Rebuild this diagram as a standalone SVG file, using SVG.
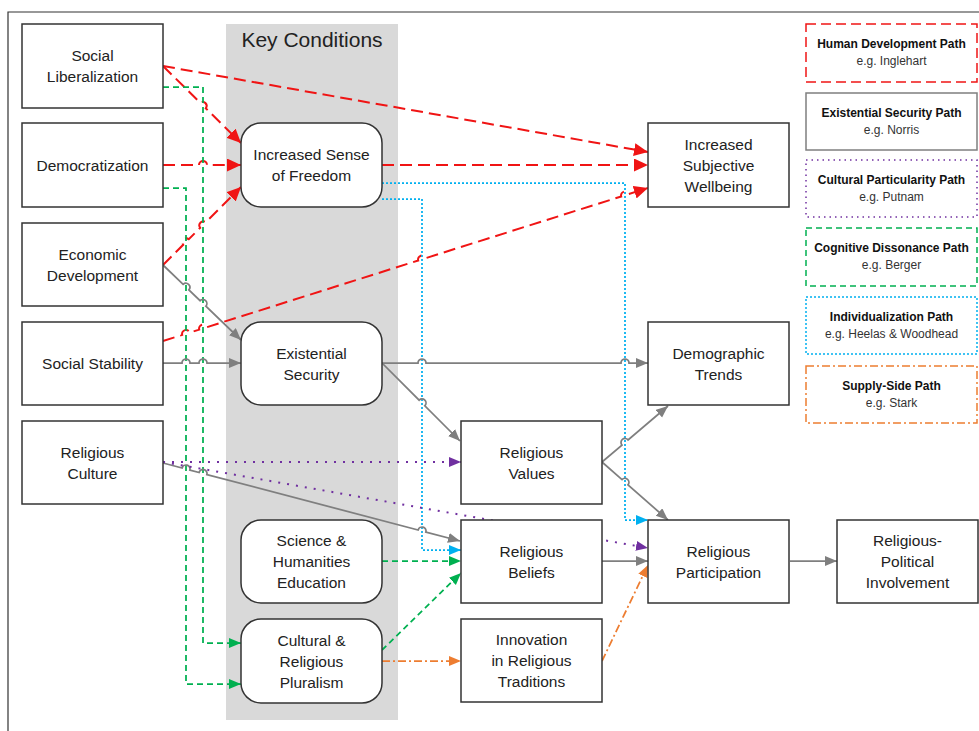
<svg xmlns="http://www.w3.org/2000/svg" width="979" height="731" viewBox="0 0 979 731">
<style>
.bx{fill:#fff;stroke:#333;stroke-width:1.5}
.t{font-family:"Liberation Sans",Arial,sans-serif;font-size:15.5px;fill:#222;text-anchor:middle}
.lt{font-family:"Liberation Sans",Arial,sans-serif;font-size:12px;fill:#333;text-anchor:middle}
.lb{font-weight:bold;fill:#111}
.c{fill:none}
.red{stroke:#f01414;stroke-width:2;stroke-dasharray:12 6}
.gry{stroke:#7f7f7f;stroke-width:1.75}
.grn{stroke:#00b050;stroke-width:1.75;stroke-dasharray:6 4}
.blu{stroke:#00b0f0;stroke-width:1.75;stroke-dasharray:2 2}
.pur{stroke:#7030a0;stroke-width:2;stroke-dasharray:2 7}
.org{stroke:#ed7d31;stroke-width:1.75;stroke-dasharray:8 3 2 3}
</style>
<defs>
<marker id="aR" markerUnits="userSpaceOnUse" markerWidth="15" markerHeight="13" refX="14" refY="6.5" orient="auto"><path d="M0,0 L14,6.5 L0,13 z" fill="#f01414"/></marker>
<marker id="aG" markerUnits="userSpaceOnUse" markerWidth="13" markerHeight="11" refX="12" refY="5" orient="auto"><path d="M0,0 L12,5 L0,10 z" fill="#7f7f7f"/></marker>
<marker id="aN" markerUnits="userSpaceOnUse" markerWidth="13" markerHeight="11" refX="12" refY="5" orient="auto"><path d="M0,0 L12,5 L0,10 z" fill="#00b050"/></marker>
<marker id="aB" markerUnits="userSpaceOnUse" markerWidth="13" markerHeight="11" refX="12" refY="5" orient="auto"><path d="M0,0 L12,5 L0,10 z" fill="#00b0f0"/></marker>
<marker id="aP" markerUnits="userSpaceOnUse" markerWidth="13" markerHeight="11" refX="12" refY="5" orient="auto"><path d="M0,0 L12,5 L0,10 z" fill="#7030a0"/></marker>
<marker id="aO" markerUnits="userSpaceOnUse" markerWidth="13" markerHeight="11" refX="12" refY="5" orient="auto"><path d="M0,0 L12,5 L0,10 z" fill="#ed7d31"/></marker>
</defs>
<rect width="979" height="731" fill="#fff"/>
<path d="M8,731 V12 H979" fill="none" stroke="#333" stroke-width="1.2"/>
<g id="key-conditions">
<rect x="226" y="24" width="172" height="696" fill="#d9d9d9"/>
<text x="312" y="47" font-family="Liberation Sans,Arial,sans-serif" font-size="21" fill="#222" text-anchor="middle">Key Conditions</text>
</g>
<g id="connectors" class="c">
<path class="c red" marker-end="url(#aR)" d="M163,66 L648,152"/>
<path class="c red" marker-end="url(#aR)" d="M163,66 L200.2,102.7 A4,4 0 0 1 205.8,108.3 L241,143"/>
<path class="c red" marker-end="url(#aR)" d="M163,165 L199,165 A4,4 0 0 1 207,165 L241,165"/>
<path class="c red" marker-end="url(#aR)" d="M163,265 L183.2,244.8 A4,4 0 0 1 188.8,239.2 L200.2,227.8 A4,4 0 0 1 205.8,222.2 L241,187"/>
<path class="c red" marker-end="url(#aR)" d="M163,341 L182.19,334.94 A4,4 0 0 1 189.81,332.54 L199.19,329.58 A4,4 0 0 1 206.81,327.18 L418.19,260.5 A4,4 0 0 1 425.81,258.1 L621.19,196.46 A4,4 0 0 1 628.81,194.06 L648,188"/>
<path class="c red" marker-end="url(#aR)" d="M382,165 L648,165"/>
<path class="c blu" marker-end="url(#aB)" d="M382,183 H625 V520 H648"/>
<path class="c blu" marker-end="url(#aB)" d="M382,199 H422 V550 H461"/>
<path class="c grn" marker-end="url(#aN)" d="M163,87 H203 V643 H241"/>
<path class="c grn" marker-end="url(#aN)" d="M163,188 H186 V684 H241"/>
<path class="c grn" marker-end="url(#aN)" d="M382,561 H461"/>
<path class="c grn" marker-end="url(#aN)" d="M382,650 L461,573"/>
<path class="c gry" marker-end="url(#aG)" d="M163,265 L183.12,284.35 A4,4 0 0 1 188.88,289.87 L200.12,300.69 A4,4 0 0 1 205.88,306.23 L241,340"/>
<path class="c gry" marker-end="url(#aG)" d="M163,363 L182,363 A4,4 0 0 1 190,363 L199,363 A4,4 0 0 1 207,363 L241,363"/>
<path class="c gry" marker-end="url(#aG)" d="M382,363 L418,363 A4,4 0 0 1 426,363 L621,363 A4,4 0 0 1 629,363 L648,363"/>
<path class="c gry" marker-end="url(#aG)" d="M382,363 L419.17,400.17 A4,4 0 0 1 424.83,405.83 L460,441"/>
<path class="c gry" marker-end="url(#aG)" d="M163,463 L182.13,468.02 A4,4 0 0 1 189.87,470.06 L199.13,472.48 A4,4 0 0 1 206.87,474.52 L418.13,530 A4,4 0 0 1 425.87,532.04 L460,541"/>
<path class="c gry" marker-end="url(#aG)" d="M602,462 L621.95,445.08 A4,4 0 0 1 628.05,439.9 L668,406"/>
<path class="c gry" marker-end="url(#aG)" d="M602,462 L622,479.57 A4,4 0 0 1 628,484.85 L668,520"/>
<path class="c gry" marker-end="url(#aG)" d="M602,561 H648"/>
<path class="c gry" marker-end="url(#aG)" d="M790,561 H837"/>
<path class="c pur" marker-end="url(#aP)" d="M163,462 H461"/>
<path class="c pur" marker-end="url(#aP)" d="M163,462 L648,548"/>
<path class="c org" marker-end="url(#aO)" d="M382,661 H461"/>
<path class="c org" marker-end="url(#aO)" d="M602,661 L648,565"/>
</g>
<g id="social-liberalization"><rect class="bx" x="22" y="24" width="141" height="84"/><text class="t" x="92.5" y="61">Social</text><text class="t" x="92.5" y="82">Liberalization</text></g>
<g id="democratization"><rect class="bx" x="22" y="123" width="141" height="84"/><text class="t" x="92.5" y="170.5">Democratization</text></g>
<g id="economic-development"><rect class="bx" x="22" y="223" width="141" height="83"/><text class="t" x="92.5" y="259.5">Economic</text><text class="t" x="92.5" y="280.5">Development</text></g>
<g id="social-stability"><rect class="bx" x="22" y="322" width="141" height="83"/><text class="t" x="92.5" y="369">Social Stability</text></g>
<g id="religious-culture"><rect class="bx" x="22" y="421" width="141" height="83"/><text class="t" x="92.5" y="457.5">Religious</text><text class="t" x="92.5" y="478.5">Culture</text></g>
<g id="increased-sense-of-freedom"><rect class="bx" x="241" y="123" width="141" height="84" rx="20"/><text class="t" x="311.5" y="160">Increased Sense</text><text class="t" x="311.5" y="181">of Freedom</text></g>
<g id="existential-security"><rect class="bx" x="241" y="322" width="141" height="83" rx="20"/><text class="t" x="311.5" y="358.5">Existential</text><text class="t" x="311.5" y="379.5">Security</text></g>
<g id="science-humanities-education"><rect class="bx" x="241" y="520" width="141" height="83" rx="20"/><text class="t" x="311.5" y="546">Science &amp;</text><text class="t" x="311.5" y="567">Humanities</text><text class="t" x="311.5" y="588">Education</text></g>
<g id="cultural-religious-pluralism"><rect class="bx" x="241" y="619" width="141" height="84" rx="20"/><text class="t" x="311.5" y="645.5">Cultural &amp;</text><text class="t" x="311.5" y="666.5">Religious</text><text class="t" x="311.5" y="687.5">Pluralism</text></g>
<g id="religious-values"><rect class="bx" x="461" y="421" width="141" height="83"/><text class="t" x="531.5" y="457.5">Religious</text><text class="t" x="531.5" y="478.5">Values</text></g>
<g id="religious-beliefs"><rect class="bx" x="461" y="520" width="141" height="83"/><text class="t" x="531.5" y="556.5">Religious</text><text class="t" x="531.5" y="577.5">Beliefs</text></g>
<g id="innovation-in-religious-traditions"><rect class="bx" x="461" y="619" width="141" height="83"/><text class="t" x="531.5" y="645">Innovation</text><text class="t" x="531.5" y="666">in Religious</text><text class="t" x="531.5" y="687">Traditions</text></g>
<g id="increased-subjective-wellbeing"><rect class="bx" x="648" y="123" width="141" height="84"/><text class="t" x="718.5" y="149.5">Increased</text><text class="t" x="718.5" y="170.5">Subjective</text><text class="t" x="718.5" y="191.5">Wellbeing</text></g>
<g id="demographic-trends"><rect class="bx" x="648" y="322" width="141" height="83"/><text class="t" x="718.5" y="358.5">Demographic</text><text class="t" x="718.5" y="379.5">Trends</text></g>
<g id="religious-participation"><rect class="bx" x="648" y="520" width="141" height="83"/><text class="t" x="718.5" y="556.5">Religious</text><text class="t" x="718.5" y="577.5">Participation</text></g>
<g id="religious-political-involvement"><rect class="bx" x="837" y="520" width="141" height="83"/><text class="t" x="907.5" y="546">Religious-</text><text class="t" x="907.5" y="567">Political</text><text class="t" x="907.5" y="588">Involvement</text></g>
<g id="legend-human-development"><rect x="806" y="24" width="171" height="58" fill="#fff" stroke="#f01414" stroke-width="1.5" stroke-dasharray="10 5"/><text class="lt lb" x="891.5" y="48">Human Development Path</text><text class="lt" x="891.5" y="65">e.g. Inglehart</text></g>
<g id="legend-existential-security"><rect x="806" y="93" width="171" height="57" fill="#fff" stroke="#7f7f7f" stroke-width="1.5"/><text class="lt lb" x="891.5" y="117">Existential Security Path</text><text class="lt" x="891.5" y="134">e.g. Norris</text></g>
<g id="legend-cultural-particularity"><rect x="806" y="160" width="171" height="57" fill="#fff" stroke="#7030a0" stroke-width="1.5" stroke-dasharray="1.5 4"/><text class="lt lb" x="891.5" y="184">Cultural Particularity Path</text><text class="lt" x="891.5" y="201">e.g. Putnam</text></g>
<g id="legend-cognitive-dissonance"><rect x="806" y="228" width="171" height="58" fill="#fff" stroke="#00b050" stroke-width="1.5" stroke-dasharray="6 4"/><text class="lt lb" x="891.5" y="252">Cognitive Dissonance Path</text><text class="lt" x="891.5" y="269">e.g. Berger</text></g>
<g id="legend-individualization"><rect x="806" y="297" width="171" height="57" fill="#fff" stroke="#00b0f0" stroke-width="1.5" stroke-dasharray="2 2"/><text class="lt lb" x="891.5" y="321">Individualization Path</text><text class="lt" x="891.5" y="338">e.g. Heelas &amp; Woodhead</text></g>
<g id="legend-supply-side"><rect x="806" y="366" width="171" height="57" fill="#fff" stroke="#ed7d31" stroke-width="1.5" stroke-dasharray="8 3 2 3"/><text class="lt lb" x="891.5" y="390">Supply-Side Path</text><text class="lt" x="891.5" y="407">e.g. Stark</text></g>
</svg>
